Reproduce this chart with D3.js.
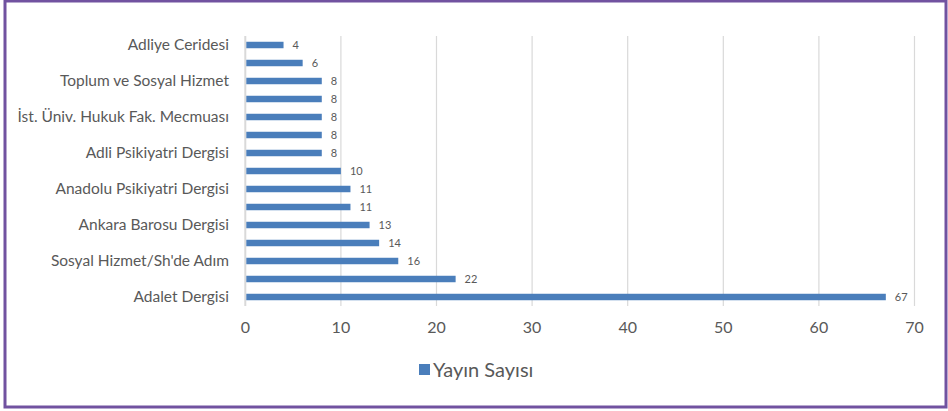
<!DOCTYPE html>
<html>
<head>
<meta charset="utf-8">
<script src="https://cdn.jsdelivr.net/npm/d3@7"></script>
<style>
  body { margin: 0; background: #fff; }
  svg text { font-family: Lato, "Open Sans", sans-serif; fill: #595959; }
</style>
</head>
<body>
<div id="chart"></div>
<script>
;(function () {

    // Categories top to bottom; only every other one carries a visible label.
    var categories = [
        'Adliye Ceridesi', '', 'Toplum ve Sosyal Hizmet', '',
        'İst. Üniv. Hukuk Fak. Mecmuası', '', 'Adli Psikiyatri Dergisi', '',
        'Anadolu Psikiyatri Dergisi', '', 'Ankara Barosu Dergisi', '',
        'Sosyal Hizmet/Sh\'de Adım', '', 'Adalet Dergisi'
    ];
    var values = [4, 6, 8, 8, 8, 8, 8, 10, 11, 11, 13, 14, 16, 22, 67];
    var xTicks = [0, 10, 20, 30, 40, 50, 60, 70];
    var seriesName = 'Yayın Sayısı';

    var width = 948, height = 411;
    var color = '#4a7ebb';

    var svg = d3.select('#chart').append('svg')
        .attr('width', width)
        .attr('height', height);

    // outer frame
    svg.append('rect')
        .attr('x', 5).attr('y', 1)
        .attr('width', 941).attr('height', 406)
        .attr('fill', 'none')
        .attr('stroke', '#7152a0')
        .attr('stroke-width', 3);

    var x = d3.scaleLinear().domain([0, 70]).range([245.3, 914.5]);
    var y = d3.scaleBand()
        .domain(d3.range(categories.length))
        .range([36, 306])
        .paddingInner(0.64)
        .paddingOuter(0.32);

    // gridlines
    svg.append('g').selectAll('line')
        .data(xTicks)
        .enter().append('line')
        .attr('x1', function (d) { return x(d); })
        .attr('x2', function (d) { return x(d); })
        .attr('y1', 36).attr('y2', 306)
        .attr('stroke', '#d9d9d9')
        .attr('stroke-width', function (d) { return d === 0 ? 2 : 1.2; });

    // tick labels
    svg.append('g').selectAll('text')
        .data(xTicks)
        .enter().append('text')
        .attr('x', function (d) { return x(d); })
        .attr('y', 333)
        .attr('text-anchor', 'middle')
        .style('font-size', '16px')
        .text(function (d) { return d; });

    // bars
    svg.append('g').selectAll('rect')
        .data(values)
        .enter().append('rect')
        .attr('x', x(0) + 1)
        .attr('y', function (d, i) { return y(i); })
        .attr('width', function (d) { return x(d) - x(0) - 1; })
        .attr('height', y.bandwidth())
        .attr('fill', color);

    // value labels
    svg.append('g').selectAll('text')
        .data(values)
        .enter().append('text')
        .attr('x', function (d) { return x(d) + 9; })
        .attr('y', function (d, i) { return y(i) + y.bandwidth() / 2 + 4; })
        .style('font-size', '11px')
        .text(function (d) { return d; });

    // category labels
    svg.append('g').selectAll('text')
        .data(categories)
        .enter().append('text')
        .attr('x', 229)
        .attr('y', function (d, i) { return y(i) + y.bandwidth() / 2 + 5; })
        .attr('text-anchor', 'end')
        .style('font-size', '15.5px')
        .text(function (d) { return d; });

    // legend
    svg.append('rect')
        .attr('x', 419).attr('y', 364)
        .attr('width', 11).attr('height', 11)
        .attr('fill', color);
    svg.append('text')
        .attr('x', 433).attr('y', 377)
        .style('font-size', '20px')
        .text(seriesName);

})();
</script>
</body>
</html>
